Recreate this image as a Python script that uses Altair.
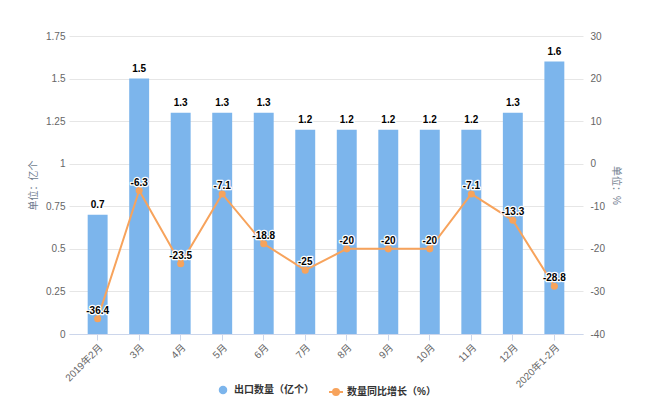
import altair as alt
import pandas as pd

months = ["2019年2月", "3月", "4月", "5月", "6月", "7月", "8月", "9月", "10月", "11月", "12月", "2020年1-2月"]
qty = [0.7, 1.5, 1.3, 1.3, 1.3, 1.2, 1.2, 1.2, 1.2, 1.2, 1.3, 1.6]
growth = [-36.4, -6.3, -23.5, -7.1, -18.8, -25, -20, -20, -20, -7.1, -13.3, -28.8]
bar_series = "出口数量（亿个）"
line_series = "数量同比增长（%）"
left_ticks = [0, 0.25, 0.5, 0.75, 1, 1.25, 1.5, 1.75]
right_ticks = [-40, -30, -20, -10, 0, 10, 20, 30]

df = pd.DataFrame({
    "month": months,
    "qty": qty,
    "growth": growth,
    "qty_label": [f"{v:g}" for v in qty],
    "growth_label": [f"{v:g}" for v in growth],
    "s1": bar_series,
    "s2": line_series,
})

FONT = "Liberation Sans, Noto Sans CJK SC"
TITLE_COLOR = "#6f7d8e"

x = alt.X(
    "month:N", sort=months,
    scale=alt.Scale(paddingInner=0.52, paddingOuter=0.45),
    axis=alt.Axis(title=None, labelAngle=-45, labelFontSize=10, labelColor="#666666",
                  labelFont=FONT, domainColor="#ccd6eb", tickColor="#ccd6eb", tickSize=6,
                  grid=False, labelPadding=2),
)

y_left = alt.Y(
    "qty:Q",
    scale=alt.Scale(domain=[0, 1.75], nice=False, zero=True),
    axis=alt.Axis(values=left_ticks, labelExpr="'' + datum.value", title="单位：亿个",
                  titleFont=FONT, titleFontSize=10, titleColor=TITLE_COLOR, titleFontWeight="normal",
                  titleAngle=-90, titleX=-36, titleY=149, titleBaseline="middle", titleAlign="center",
                  domain=False, ticks=False, labelPadding=4, gridColor="#e6e6e6",
                  labelColor="#666666", labelFontSize=10, labelFont=FONT),
)

y_right = alt.Y(
    "growth:Q",
    scale=alt.Scale(domain=[-40, 30], nice=False, zero=False),
    axis=alt.Axis(orient="right", values=right_ticks, labelExpr="'' + datum.value", title="单位：%",
                  titleFont=FONT, titleFontSize=10, titleColor=TITLE_COLOR, titleFontWeight="normal",
                  titleAngle=90, titleX=32, titleY=149, titleBaseline="middle", titleAlign="center",
                  domain=False, ticks=False, grid=False, labelPadding=7,
                  labelColor="#666666", labelFontSize=10, labelFont=FONT),
)

base_left = alt.Chart(df).encode(x=x, y=y_left)
bars = base_left.mark_bar(color="#7cb5ec").encode(
    fill=alt.Fill("s1:N", scale=alt.Scale(domain=[bar_series], range=["#7cb5ec"]),
                  legend=alt.Legend(title=None, orient="none", legendX=149, legendY=349,
                                    symbolType="circle", symbolSize=72, padding=0,
                                    labelFont=FONT, labelFontSize=10, labelFontWeight="bold",
                                    labelColor="#333333", labelOffset=6))
)
bar_text_bg = base_left.mark_text(dy=-10, font=FONT, fontSize=10, fontWeight="bold",
                                  stroke="white", strokeWidth=2.5, strokeJoin="round",
                                  fill="white").encode(text="qty_label:N")
bar_text = base_left.mark_text(dy=-10, font=FONT, fontSize=10, fontWeight="bold",
                               color="#000000").encode(text="qty_label:N")

line_symbol = "M-1,0L1,0M-0.43,0a0.43,0.43 0 1,0 0.86,0a0.43,0.43 0 1,0 -0.86,0Z"

base_right = alt.Chart(df).encode(x=x, y=y_right)
line = base_right.mark_line(strokeWidth=2).encode(
    stroke=alt.Stroke("s2:N", scale=alt.Scale(domain=[line_series], range=["#f7a35c"]),
                      legend=alt.Legend(title=None, orient="none", legendX=259, legendY=348,
                                        symbolType=line_symbol, symbolSize=196, padding=0,
                                        symbolStrokeWidth=2, symbolFillColor="#f7a35c",
                                        symbolStrokeColor="#f7a35c",
                                        labelFont=FONT, labelFontSize=10, labelFontWeight="bold",
                                        labelColor="#333333", labelOffset=3))
)
points = base_right.mark_circle(size=50, color="#f7a35c", opacity=1)
line_text_bg = base_right.mark_text(dy=-8, font=FONT, fontSize=10, fontWeight="bold",
                                    stroke="white", strokeWidth=2.5, strokeJoin="round",
                                    fill="white").encode(text="growth_label:N")
line_text = base_right.mark_text(dy=-8, font=FONT, fontSize=10, fontWeight="bold",
                                 color="#000000").encode(text="growth_label:N")

left = alt.layer(bars, bar_text_bg, bar_text)
right = alt.layer(line, points, line_text_bg, line_text)

chart = alt.layer(left, right).resolve_scale(y="independent").properties(
    width=514, height=298,
    padding={"left": 69, "top": 36, "right": 67, "bottom": 86},
    autosize=alt.AutoSizeParams(type="none"),
    background="white",
).configure_view(stroke=None)

chart.save("out.html", embed_options={"renderer": "svg", "actions": False})
